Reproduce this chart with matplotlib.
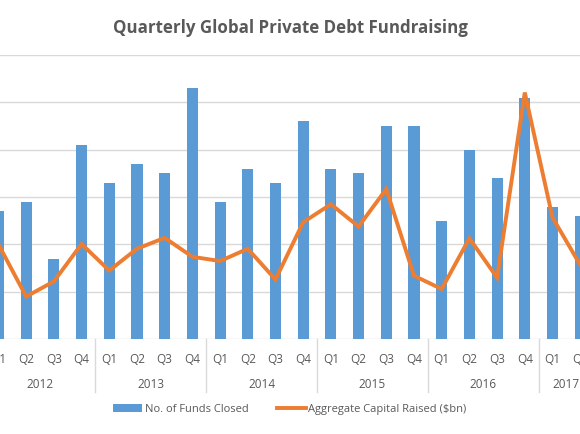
import matplotlib
matplotlib.use("Agg")
import matplotlib.pyplot as plt
from matplotlib.patches import Patch
from matplotlib.lines import Line2D

plt.rcParams['font.family'] = ['Open Sans', 'DejaVu Sans']

# data (left axis: funds, right axis: $bn)
years = ['2012', '2013', '2014', '2015', '2016', '2017']
quarters = ['Q1', 'Q2', 'Q3', 'Q4'] * 5 + ['Q1', 'Q2']
funds_closed = [27, 29, 17, 41, 33, 37, 35, 53, 29, 36, 33, 46,
                36, 35, 45, 45, 25, 40, 34, 51, 28, 26]
capital_bn = [20, 9, 12.2, 20.1, 14.5, 19.1, 21.4, 17.4, 16.5, 19.1, 12.6, 24.7,
              28.5, 23.8, 31.7, 13.4, 10.6, 21.3, 13.0, 52.1, 25.7, 15.7]

blue = '#5B9BD5'
orange = '#ED7D31'
grey = '#595959'
grid_c = '#D9D9D9'

fig = plt.figure(figsize=(5.8, 4.35), dpi=100)
# plot area runs past the picture edges, as in the original crop
ax = fig.add_axes([-0.0265, 0.218, 1.0507, 0.653])
x = list(range(len(funds_closed)))

ax.bar(x, funds_closed, width=0.4, color=blue, zorder=2)
ax.set_xlim(-0.5, len(x) - 0.5)
ax.set_ylim(0, 60)
ax.set_yticks(range(0, 61, 10))
ax.yaxis.grid(True, color=grid_c, linewidth=1.0, zorder=0)
ax.tick_params(left=False, labelleft=False, bottom=False, labelbottom=False)
for s in ax.spines.values():
    s.set_visible(False)

ax2 = ax.twinx()
ax2.plot(x, capital_bn, color=orange, linewidth=2.8, solid_joinstyle='miter')
ax2.set_ylim(0, 60)
ax2.tick_params(right=False, labelright=False)
for s in ax2.spines.values():
    s.set_visible(False)

# category labels: quarters and year groups
trans = ax.get_xaxis_transform()
for i, q in enumerate(quarters):
    ax.text(i, -0.067, q, transform=trans, ha='center', va='center',
            fontsize=8.5, color=grey)
for k, yr in enumerate(years):
    start = 4 * k
    end = min(start + 3, len(x) - 1)
    ax.text((start + end) / 2, -0.155, yr, transform=trans, ha='center', va='center',
            fontsize=8.5, color=grey)
for b in [-0.5, 3.5, 7.5, 11.5, 15.5, 19.5, 21.5]:
    ax.plot([b, b], [0, -0.187], transform=trans, color=grid_c, linewidth=1.0,
            clip_on=False)

fig.text(0.5, 1 - 28 / 435, 'Quarterly Global Private Debt Fundraising',
         ha='center', va='center', fontsize=12.2, fontweight='bold', color=grey)

handles = [Patch(facecolor=blue, edgecolor='none'),
           Line2D([], [], color=orange, linewidth=2.8)]
fig.legend(handles, ['No. of Funds Closed', 'Aggregate Capital Raised ($bn)'],
           loc='center', bbox_to_anchor=(0.5, 1 - 410 / 435), ncol=2,
           frameon=False, fontsize=8, labelcolor=grey, handlelength=2.6,
           handletextpad=0.2, columnspacing=2.6)

fig.savefig('out.png', dpi=100)
